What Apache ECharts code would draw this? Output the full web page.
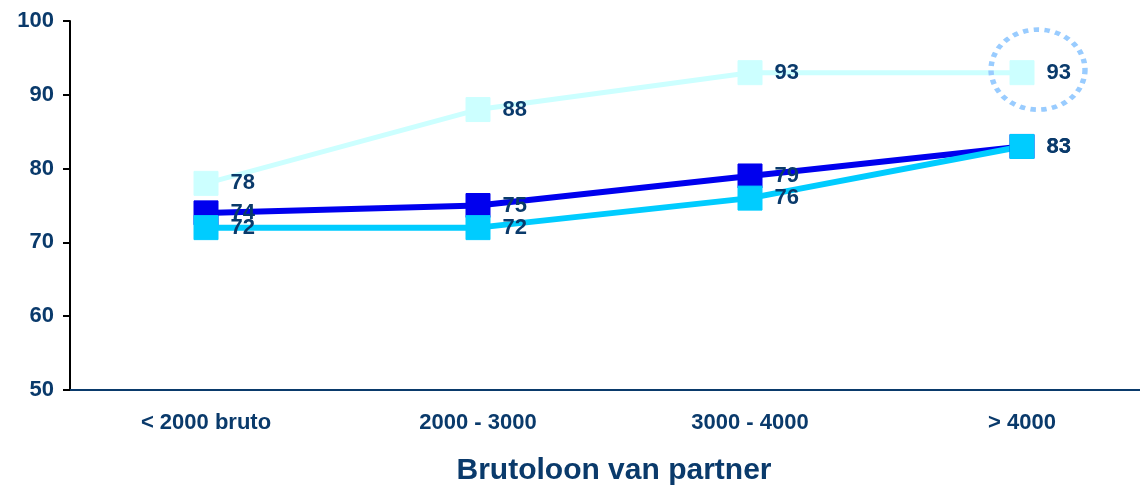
<!DOCTYPE html>
<html>
<head>
<meta charset="utf-8">
<script src="https://cdn.jsdelivr.net/npm/echarts@6/dist/echarts.min.js"></script>
<style>
  html, body { margin: 0; padding: 0; background: #fff; overflow: hidden; }
  /* de as loopt in het origineel door tot voorbij de rechterrand */
  #chart { width: 1158px; height: 491px; }
</style>
</head>
<body>
<div id="chart"></div>
<script>
  var categories = ['< 2000 bruto', '2000 - 3000', '3000 - 4000', '> 4000']
  var serieDonker = [74, 75, 79, 83]
  var serieCyaan = [72, 72, 76, 83]
  var serieLicht = [78, 88, 93, 93]
  var yTicks = [50, 60, 70, 80, 90, 100]

  var navy = '#0a3a6b'
  var font = 'Liberation Sans, Arial, sans-serif'

  var labelStyle = {
    show: true,
    position: 'right',
    distance: 12,
    color: navy,
    fontWeight: 'bold',
    fontSize: 22,
    fontFamily: font
  }

  function lineSeries(name, data, color, width) {
    return {
      name: name,
      type: 'line',
      data: data,
      symbol: 'rect',
      symbolSize: 24,
      lineStyle: { color: color, width: width },
      itemStyle: { color: color, borderColor: color },
      label: labelStyle,
      z: 2
    }
  }

  var myChart = echarts.init(document.getElementById('chart'))

  var licht = lineSeries('licht', serieLicht, '#ccffff', 5)
  // omcirkeling rond de laatste waarde
  licht.markPoint = {
    silent: true,
    data: [{ coord: [categories.length - 1, serieLicht[serieLicht.length - 1]] }],
    symbol: 'circle',
    symbolSize: [94, 80],
    symbolOffset: [16, -3],
    itemStyle: {
      color: 'rgba(0,0,0,0)',
      borderColor: '#99ccff',
      borderWidth: 5,
      borderType: [5, 5]
    },
    label: { show: false }
  }

  myChart.setOption({
    animation: false,
    grid: { left: 70, right: 0, top: 21, height: 370 },
    xAxis: [
      {
        type: 'category',
        data: categories,
        boundaryGap: true,
        axisLine: { lineStyle: { color: navy, width: 2 } },
        axisTick: { alignWithLabel: true, length: 5, lineStyle: { color: navy, width: 2 } },
        axisLabel: {
          color: navy, fontWeight: 'bold', fontSize: 22, fontFamily: font, margin: 22
        },
        name: 'Brutoloon van partner',
        nameLocation: 'middle',
        nameGap: 66,
        nameTextStyle: {
          color: navy, fontWeight: 'bold', fontSize: 30, fontFamily: font
        }
      },
      {
        type: 'category',
        data: categories,
        position: 'bottom',
        boundaryGap: true,
        axisLine: { show: false },
        axisTick: { length: 5, lineStyle: { color: navy, width: 2 } },
        axisLabel: { show: false }
      }
    ],
    yAxis: {
      type: 'value',
      min: yTicks[0],
      max: yTicks[yTicks.length - 1],
      interval: 10,
      splitLine: { show: false },
      axisLine: { show: true, lineStyle: { color: '#000', width: 2 } },
      axisTick: { show: true, length: 7, lineStyle: { color: '#000', width: 2 } },
      axisLabel: {
        color: navy, fontWeight: 'bold', fontSize: 22, fontFamily: font, margin: 16
      }
    },
    series: [
      lineSeries('donker', serieDonker, '#0000ee', 6),
      lineSeries('cyaan', serieCyaan, '#00ccff', 6),
      licht
    ]
  })

  window.addEventListener('resize', () => {
    myChart.resize()
  })
</script>
</body>
</html>
